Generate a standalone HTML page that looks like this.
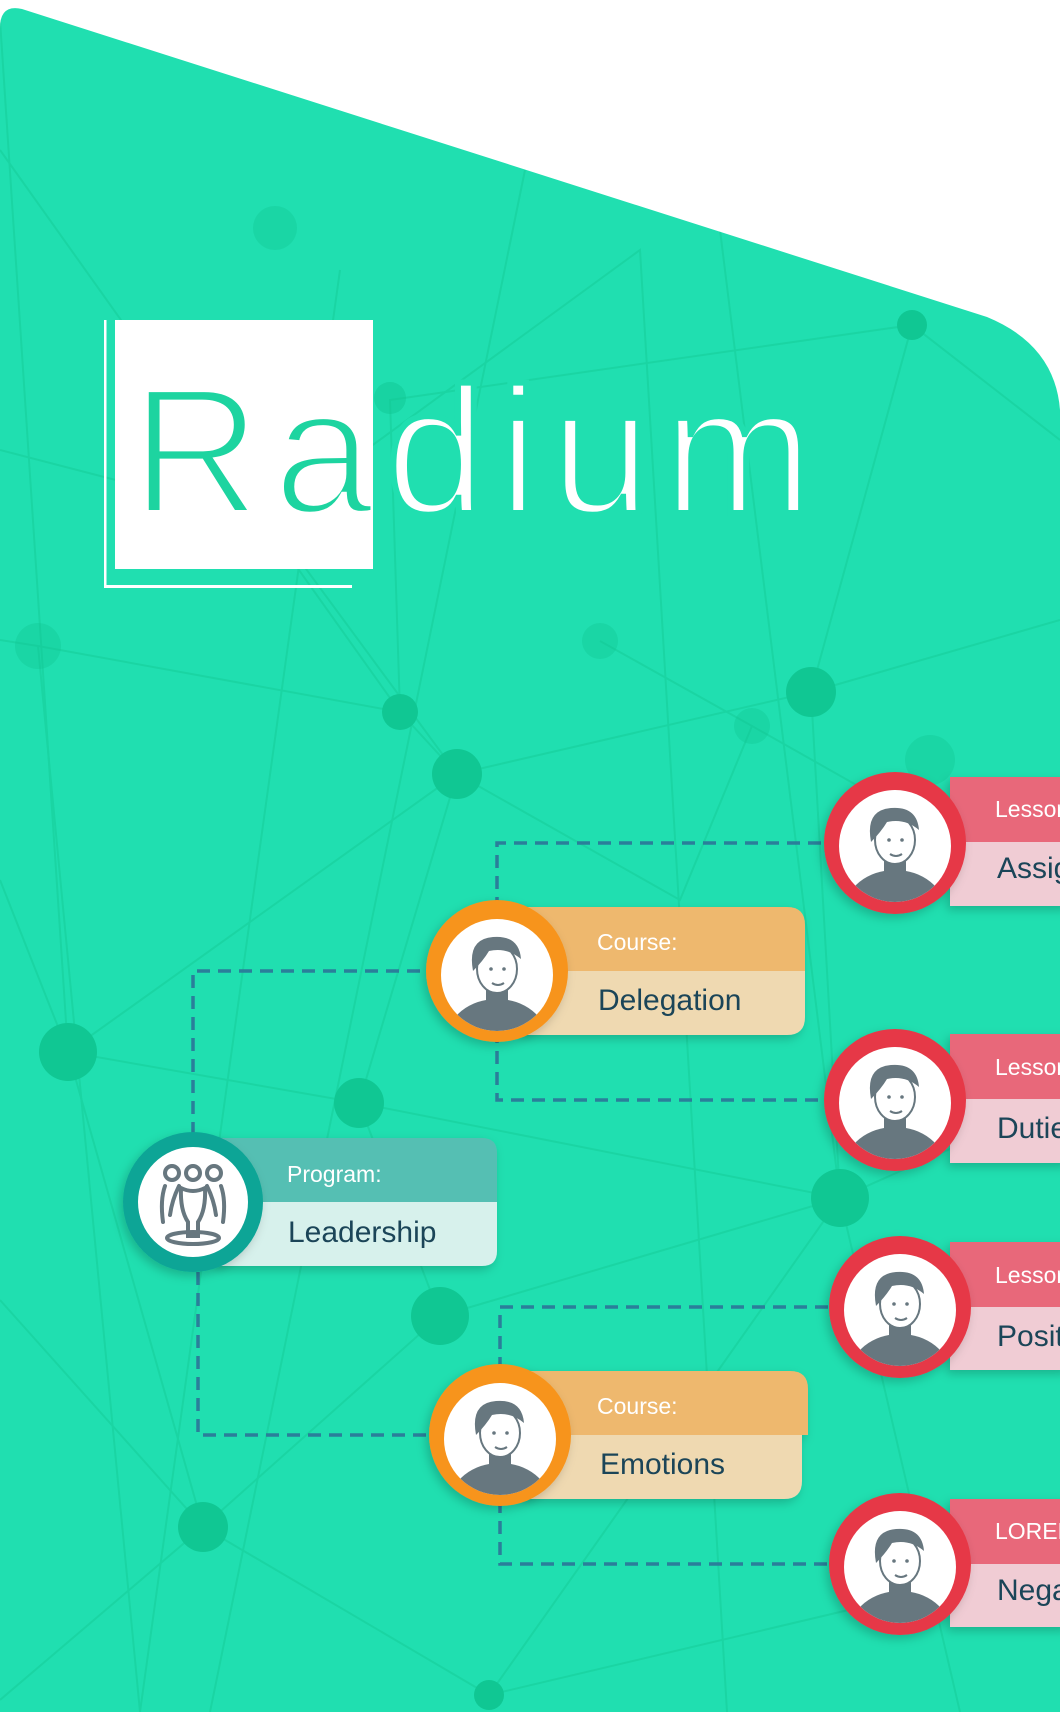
<!DOCTYPE html>
<html><head><meta charset="utf-8"><style>
html,body{margin:0;padding:0;background:#fff;width:1060px;height:1712px;overflow:hidden}
svg{display:block}
text{font-family:"Liberation Sans",sans-serif}
</style></head><body>
<svg width="1060" height="1712" viewBox="0 0 1060 1712" xmlns="http://www.w3.org/2000/svg">
<defs>
<clipPath id="bgclip"><path d="M0,28 Q0,4 22,9 L987,317 Q1055,345 1060,410 L1060,1712 L0,1712 Z"/></clipPath>
<clipPath id="boxclip"><rect x="115" y="320" width="258" height="249"/></clipPath>
<clipPath id="outclip"><path d="M0,0 H1060 V700 H0Z M115,320 V569 H373 V320Z" clip-rule="evenodd"/></clipPath>
<clipPath id="av"><circle cx="0" cy="0" r="56"/></clipPath>
<filter id="sh" x="-30%" y="-30%" width="160%" height="160%"><feDropShadow dx="-3" dy="4" stdDeviation="5" flood-color="#000" flood-opacity="0.2"/></filter>
<g id="person">
 <g clip-path="url(#av)">
  <circle r="57" fill="#fff"/>
  <ellipse cx="0" cy="64" rx="50" ry="40" fill="#67777f"/>
  <rect x="-11" y="8" width="22" height="22" fill="#67777f"/>
  <ellipse cx="0" cy="-6" rx="20" ry="24" fill="#fff" stroke="#67777f" stroke-width="2"/>
  <path d="M-24,-4 Q-30,-36 -4,-38 Q22,-40 24,-16 Q10,-28 -8,-24 Q-14,-14 -24,-4Z" fill="#67777f"/>
  <circle cx="-6" cy="-6" r="1.8" fill="#67777f"/><circle cx="7" cy="-6" r="1.8" fill="#67777f"/>
  <path d="M-5,8 Q1,12 7,8" stroke="#67777f" stroke-width="2" fill="none"/>
 </g>
</g>
</defs>

<g clip-path="url(#bgclip)">
 <rect width="1060" height="1712" fill="#20dfb0"/>
 <g stroke="#14c995" stroke-width="2" opacity="0.45" fill="none">
  <path d="M0,20 L68,1052 M0,150 L400,712 M340,270 L140,1712 M525,170 L210,1712 M0,450 L270,520 L457,774 L811,692 L912,325 L1060,440"/>
  <path d="M270,520 L640,250 L727,1712 M400,712 L457,774 L359,1103 L68,1052 L0,880 M68,1052 L457,774"/>
  <path d="M912,325 L390,400 L400,712 M811,692 L840,1198 L1060,1100 M720,230 L840,1198 M811,692 L1060,620"/>
  <path d="M359,1103 L840,1198 L489,1695 L203,1527 L440,1316 L359,1103 M68,1052 L203,1527 L0,1700"/>
  <path d="M440,1316 L840,1198 M203,1527 L0,1300 M489,1695 L1060,1560 M840,1198 L960,1712 M600,641 L752,726 L1060,900"/>
  <path d="M0,640 L38,646 L400,712 M38,646 L140,1712 M457,774 L680,900 L752,726"/>
 </g>
 <g fill="#10c793">
  <circle cx="912" cy="325" r="15"/><circle cx="811" cy="692" r="25"/><circle cx="457" cy="774" r="25"/>
  <circle cx="400" cy="712" r="18"/><circle cx="68" cy="1052" r="29"/><circle cx="359" cy="1103" r="25"/>
  <circle cx="440" cy="1316" r="29"/><circle cx="840" cy="1198" r="29"/><circle cx="203" cy="1527" r="25"/>
  <circle cx="489" cy="1695" r="15"/><circle cx="390" cy="398" r="16" opacity="0.5"/>
 </g>
 <g fill="#10c793" opacity="0.35">
  <circle cx="38" cy="646" r="23"/><circle cx="600" cy="641" r="18"/><circle cx="752" cy="726" r="18"/><circle cx="275" cy="228" r="22"/><circle cx="930" cy="760" r="25"/>
 </g>
</g>

<!-- Logo -->
<rect x="104" y="320" width="2.5" height="268" fill="#fff"/>
<rect x="104" y="585" width="248" height="3" fill="#fff"/>
<rect x="115" y="320" width="258" height="249" fill="#fff"/>
<text x="131" y="513" font-size="180" textLength="682" lengthAdjust="spacing" fill="#fff" stroke="#20dfb0" stroke-width="6" clip-path="url(#outclip)">Radium</text>
<text x="131" y="513" font-size="180" textLength="682" lengthAdjust="spacing" fill="#1dd4a0" stroke="#fff" stroke-width="6" clip-path="url(#boxclip)">Radium</text>

<!-- Dashed connectors -->
<g stroke="#2a7f9a" stroke-width="3.5" stroke-dasharray="13,8" fill="none">
 <path d="M193,1135 V971 H430"/>
 <path d="M198,1272 V1435 H435"/>
 <path d="M497,1030 V1100 H830 M497,910 V843 H830"/>
 <path d="M500,1370 V1307 H835 M500,1500 V1564 H835"/>
</g>

<!-- Program -->
<g filter="url(#sh)">
 <path d="M218,1138 H482 Q497,1138 497,1153 V1202 H218Z" fill="#55bfb3"/>
 <path d="M218,1202 H497 V1251 Q497,1266 482,1266 H218Z" fill="#d7f1ec"/>
</g>
<text x="287" y="1182" font-size="23" fill="#fff">Program:</text>
<text x="288" y="1242" font-size="30" fill="#1b4558">Leadership</text>
<circle cx="193" cy="1202" r="70" fill="#0aa596" filter="url(#sh)"/>
<circle cx="193" cy="1202" r="55" fill="#fff"/>
<g stroke="#67777f" stroke-width="4" fill="none" stroke-linecap="round">
 <circle cx="172" cy="1173" r="7"/><circle cx="193" cy="1173" r="7"/><circle cx="214" cy="1173" r="7"/>
 <path d="M165,1186 Q160,1200 163,1222 M179,1186 Q172,1200 170,1215"/>
 <path d="M221,1186 Q226,1200 223,1222 M207,1186 Q214,1200 216,1215"/>
 <path d="M181,1188 Q193,1194 205,1188 Q206,1210 198,1222 V1236 H188 V1222 Q180,1210 181,1188Z"/>
 <ellipse cx="193" cy="1238" rx="26" ry="6"/>
</g>

<!-- Course Delegation -->
<g filter="url(#sh)">
 <path d="M524,907 H787 Q805,907 805,925 V971 H524Z" fill="#eeb86e"/>
 <path d="M524,971 H805 V1017 Q805,1035 787,1035 H524Z" fill="#efd9b1"/>
</g>
<text x="597" y="950" font-size="23" fill="#fff">Course:</text>
<text x="598" y="1010" font-size="30" fill="#1b4558">Delegation</text>
<circle cx="497" cy="971" r="71" fill="#f7941d" filter="url(#sh)"/>
<use href="#person" x="497" y="975"/>

<!-- Course Emotions -->
<g filter="url(#sh)">
 <path d="M524,1371 H790 Q808,1371 808,1389 V1435 H524Z" fill="#eeb86e"/>
 <path d="M524,1435 H802 V1481 Q802,1499 784,1499 H524Z" fill="#efd9b1"/>
</g>
<text x="597" y="1414" font-size="23" fill="#fff">Course:</text>
<text x="600" y="1474" font-size="30" fill="#1b4558">Emotions</text>
<circle cx="500" cy="1435" r="71" fill="#f7941d" filter="url(#sh)"/>
<use href="#person" x="500" y="1439"/>

<!-- Lessons -->
<g filter="url(#sh)">
 <rect x="950" y="777" width="120" height="65" fill="#e8687a"/><rect x="950" y="842" width="120" height="64" fill="#f0ccd4"/>
 <rect x="950" y="1034" width="120" height="65" fill="#e8687a"/><rect x="950" y="1099" width="120" height="64" fill="#f0ccd4"/>
 <rect x="950" y="1242" width="120" height="65" fill="#e8687a"/><rect x="950" y="1307" width="120" height="63" fill="#f0ccd4"/>
 <rect x="950" y="1499" width="120" height="65" fill="#e8687a"/><rect x="950" y="1564" width="120" height="63" fill="#f0ccd4"/>
</g>
<g font-size="23" fill="#fff">
 <text x="995" y="817">Lesson:</text><text x="995" y="1075">Lesson:</text><text x="995" y="1283">Lesson:</text><text x="995" y="1539">LOREM</text>
</g>
<g font-size="30" fill="#1b4558">
 <text x="997" y="878">Assignment</text><text x="997" y="1138">Duties</text><text x="997" y="1346">Positive</text><text x="997" y="1600">Negative</text>
</g>
<g>
 <circle cx="895" cy="843" r="71" fill="#e63946" filter="url(#sh)"/><use href="#person" x="895" y="846"/>
 <circle cx="895" cy="1100" r="71" fill="#e63946" filter="url(#sh)"/><use href="#person" x="895" y="1103"/>
 <circle cx="900" cy="1307" r="71" fill="#e63946" filter="url(#sh)"/><use href="#person" x="900" y="1310"/>
 <circle cx="900" cy="1564" r="71" fill="#e63946" filter="url(#sh)"/><use href="#person" x="900" y="1567"/>
</g>
</svg>
</body></html>
